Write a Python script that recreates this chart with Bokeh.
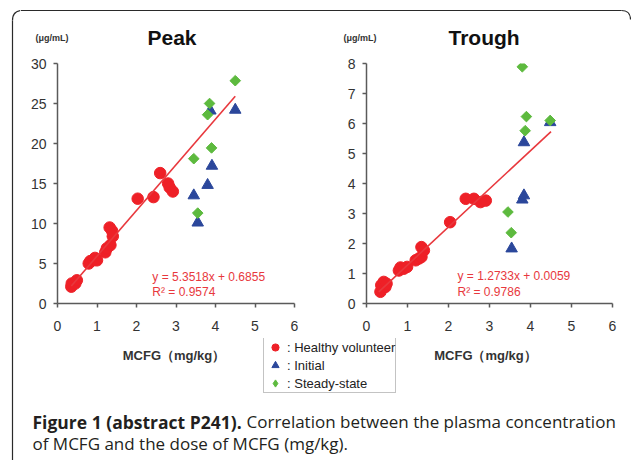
from bokeh.plotting import figure
from bokeh.layouts import row, column
from bokeh.models import Range1d, FixedTicker, Label, Legend, LegendItem
from bokeh.embed import file_html
from bokeh.resources import INLINE

# ---------------- data ----------------
x_ticks = [0, 1, 2, 3, 4, 5, 6]
peak_ticks = [0, 5, 10, 15, 20, 25, 30]
trough_ticks = [0, 1, 2, 3, 4, 5, 6, 7, 8]

peak_healthy_x = [0.35, 0.36, 0.45, 0.49, 0.79, 0.83, 0.91, 0.95, 1.00, 1.21, 1.25,
                  1.34, 1.32, 1.38, 1.40, 2.03, 2.43, 2.60, 2.80, 2.84, 2.92]
peak_healthy_y = [2.1, 2.5, 2.5, 2.9, 5.0, 5.3, 5.4, 5.7, 5.4, 6.4, 6.9,
                  7.3, 9.5, 9.1, 8.4, 13.1, 13.3, 16.3, 15.0, 14.5, 14.0]
peak_initial_x = [3.45, 3.55, 3.80, 3.91, 3.87, 4.50]
peak_initial_y = [13.5, 10.1, 14.8, 17.2, 24.1, 24.2]
peak_steady_x = [3.45, 3.55, 3.80, 3.85, 3.90, 4.50]
peak_steady_y = [18.1, 11.3, 23.6, 25.0, 19.45, 27.85]
peak_fit_x = [0.35, 4.5]
peak_fit_y = [2.2, 25.9]
peak_eq = ["y = 5.3518x + 0.6855", "R\u00b2 = 0.9574"]

trough_healthy_x = [0.34, 0.36, 0.42, 0.46, 0.49, 0.79, 0.83, 0.91, 0.99, 1.20,
                    1.28, 1.34, 1.34, 1.40, 2.04, 2.42, 2.62, 2.78, 2.91]
trough_healthy_y = [0.39, 0.61, 0.72, 0.55, 0.66, 1.10, 1.20, 1.16, 1.22, 1.44,
                    1.50, 1.55, 1.88, 1.77, 2.71, 3.49, 3.49, 3.38, 3.43]
trough_initial_x = [3.54, 3.80, 3.84, 3.84, 4.48]
trough_initial_y = [1.83, 3.46, 3.60, 5.37, 6.04]
trough_steady_x = [3.45, 3.53, 3.80, 3.87, 3.90, 4.48]
trough_steady_y = [3.05, 2.36, 7.89, 5.76, 6.23, 6.10]
trough_fit_x = [0.30, 4.5]
trough_fit_y = [0.39, 5.73]
trough_eq = ["y = 1.2733x + 0.0059", "R\u00b2 = 0.9786"]

titles = ["Peak", "Trough"]
y_unit = "(\u03bcg/mL)"
x_label = "MCFG\uff08mg/kg\uff09"
legend_labels = [": Healthy volunteer", ": Initial", ": Steady-state"]
caption_bold = "Figure 1 (abstract P241)."
caption_rest = "Correlation between the plasma concentration"
caption_line2 = "of MCFG and the dose of MCFG (mg/kg)."

# ---------------- styles ----------------
RED = "#ee2027"
BLUE = "#2b479b"
GREEN = "#5dba3e"
FIT = "#e8383d"
AX = "#5a5a5a"
BORDER = "#2a2a2a"
FONT = "Liberation Sans"
CAP_FONT = "Open Sans"


def deco(width, height, x0, y0):
    """A plain strip whose data coordinates equal page pixels (for frame/text)."""
    f = figure(width=width, height=height, title=None,
               x_range=Range1d(x0, x0 + width), y_range=Range1d(y0 + height, y0),
               output_backend="svg", toolbar_location=None, min_border=0,
               x_axis_location=None, y_axis_location=None, outline_line_color=None,
               background_fill_color="white", border_fill_color="white")
    f.grid.visible = False
    return f


def panel(width, ticks, yend, hx, hy, ix, iy, sx, sy, fx, fy, eq,
          eq_x, eq_y1, eq_y2, min_left, min_right):
    p = figure(width=width, height=288, title=None,
               x_range=Range1d(0, 6), y_range=Range1d(0, yend),
               output_backend="svg", toolbar_location=None,
               min_border_left=min_left, min_border_right=min_right,
               min_border_top=13, min_border_bottom=35,
               outline_line_color=None, background_fill_color="white",
               border_fill_color="white")
    p.grid.visible = False
    for ax in (p.xaxis[0], p.yaxis[0]):
        ax.axis_line_color = AX
        ax.axis_line_width = 1.5
        ax.major_tick_line_color = AX
        ax.major_tick_line_width = 1.5
        ax.minor_tick_line_color = None
        ax.major_tick_in = 0
        ax.major_tick_out = 4
        ax.major_label_text_font = FONT
        ax.major_label_text_font_size = "14px"
        ax.major_label_text_color = "#333333"
    p.xaxis.ticker = FixedTicker(ticks=x_ticks)
    p.yaxis.ticker = FixedTicker(ticks=ticks)
    p.xaxis.major_label_standoff = 13
    p.yaxis.major_label_standoff = 7

    p.scatter(hx, hy, marker="circle", size=11.5, fill_color=RED, line_color=RED)
    p.scatter(ix, iy, marker="triangle", size=11.5, fill_color=BLUE, line_color=BLUE)
    p.scatter(sx, sy, marker="square", angle=45, angle_units="deg", size=7.5,
              fill_color=GREEN, line_color=GREEN)
    p.line(fx, fy, line_color=FIT, line_width=1.6)
    for txt, yy in zip(eq, (eq_y1, eq_y2)):
        p.add_layout(Label(x=eq_x, y=yy, text=txt, text_font=FONT,
                           text_font_size="12px", text_color=FIT,
                           text_baseline="middle"))
    return p


# ---------------- left edge strip (outer frame) ----------------
strip = deco(20, 460, 0, 0)
strip.line([12, 12], [20, 460], line_color=BORDER, line_width=1.2)
strip.quadratic(x0=12, y0=20, x1=22, y1=10, cx=12, cy=10, line_color=BORDER, line_width=1.2)

# ---------------- top strip: frame edge, titles, units ----------------
top = deco(611, 50, 20, 0)
top.line([20, 621], [10, 10], line_color=BORDER, line_width=1.2)
top.quadratic(x0=621, y0=10, x1=630, y1=19, cx=630, cy=10, line_color=BORDER, line_width=1.2)
for xx, txt in ((147, titles[0]), (448, titles[1])):
    top.add_layout(Label(x=xx, y=37, text=txt, text_font=FONT, text_font_size="21px",
                         text_font_style="bold", text_color="#111111",
                         text_baseline="middle"))
for xx in (35, 343):
    top.add_layout(Label(x=xx, y=37, text=y_unit, text_font=FONT, text_font_size="9px",
                         text_font_style="bold", text_color="#333333",
                         text_baseline="middle"))

# ---------------- the two scatter panels ----------------
p1 = panel(312, peak_ticks, 30, peak_healthy_x, peak_healthy_y,
           peak_initial_x, peak_initial_y, peak_steady_x, peak_steady_y,
           peak_fit_x, peak_fit_y, peak_eq, 2.40, 3.28, 1.41, 37, 38)
p2 = panel(299, trough_ticks, 8, trough_healthy_x, trough_healthy_y,
           trough_initial_x, trough_initial_y, trough_steady_x, trough_steady_y,
           trough_fit_x, trough_fit_y, trough_eq, 2.22, 0.908, 0.376, 34, 19)

# ---------------- bottom strip: axis titles, legend, caption ----------------
bot = deco(611, 122, 20, 338)
for cx in (173.5, 485):
    bot.add_layout(Label(x=cx, y=355, text=x_label, text_font=FONT, text_font_size="13px",
                         text_font_style="bold", text_color="#333333",
                         text_align="center", text_baseline="middle"))

# legend proxies carry the real series; they fall outside this strip's ranges
r_h = bot.scatter(peak_healthy_x, peak_healthy_y, marker="circle",
                  fill_color=RED, line_color=RED)
r_i = bot.scatter(peak_initial_x, peak_initial_y, marker="triangle",
                  fill_color=BLUE, line_color=BLUE)
r_s = bot.scatter(peak_steady_x, peak_steady_y, marker="diamond",
                  fill_color=GREEN, line_color=GREEN)
legend = Legend(items=[LegendItem(label=legend_labels[0], renderers=[r_h]),
                       LegendItem(label=legend_labels[1], renderers=[r_i]),
                       LegendItem(label=legend_labels[2], renderers=[r_s])],
                location=(243, 67), orientation="vertical",
                glyph_width=22, glyph_height=18, label_height=18,
                spacing=0, padding=0, margin=0, label_standoff=1,
                label_text_font=FONT, label_text_font_size="13px",
                label_text_color="#222222",
                border_line_color="#888888", border_line_width=1,
                background_fill_color="white", background_fill_alpha=1)
bot.add_layout(legend)

bot.add_layout(Label(x=32, y=421, text=caption_bold, text_font=CAP_FONT,
                     text_font_size="17.5px", text_font_style="bold",
                     text_color="#231f20", text_baseline="middle"))
bot.add_layout(Label(x=246, y=421, text=caption_rest, text_font=CAP_FONT,
                     text_font_size="17px", text_color="#231f20",
                     text_baseline="middle"))
bot.add_layout(Label(x=32, y=443, text=caption_line2, text_font=CAP_FONT,
                     text_font_size="17px", text_color="#231f20",
                     text_baseline="middle"))

layout = row(strip, column(top, row(p1, p2, spacing=0), bot, spacing=0), spacing=0)
open("out.html", "w").write(file_html(layout, INLINE))
